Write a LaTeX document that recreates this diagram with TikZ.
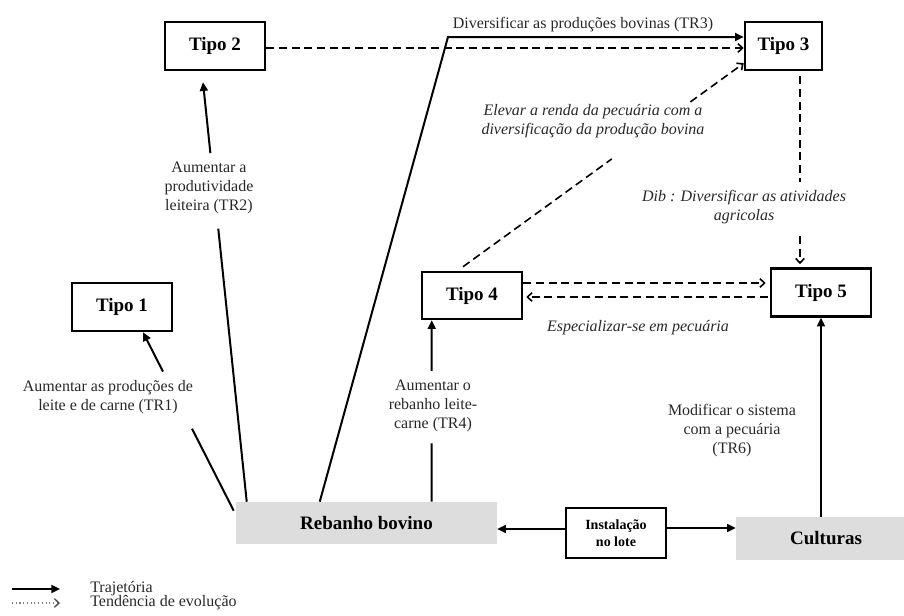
\documentclass[tikz,border=0pt]{standalone}
\usepackage{fontspec}
\setmainfont{Liberation Serif}
\usetikzlibrary{arrows.meta,calc}
\definecolor{boxgray}{RGB}{221,221,221}
\definecolor{labelc}{RGB}{40,40,40}
\begin{document}
\begin{tikzpicture}[x=0.75pt,y=-0.75pt,
  tbox/.style={draw,line width=1.9pt,font=\fontsize{14.25}{17}\selectfont\bfseries,minimum width=75pt,minimum height=36pt,inner sep=0pt},
  gbox/.style={fill=boxgray,font=\fontsize{14.25}{17}\selectfont\bfseries,inner sep=0pt},
  lbl/.style={font=\fontsize{12}{14.25}\selectfont,text=labelc,align=center,inner sep=0pt},
  ilbl/.style={lbl,font=\fontsize{12}{14.25}\selectfont\itshape},
  traj/.style={line width=1.5pt,-{Triangle[length=6.5pt,width=6pt]}},
  trajline/.style={line width=1.5pt},
  tend/.style={line width=1.2pt,dash pattern=on 6pt off 3.5pt,-{Straight Barb[length=3.5pt,width=6.5pt,line width=1.2pt]}},
  tendline/.style={line width=1.2pt,dash pattern=on 6pt off 3.5pt},
]
\useasboundingbox (0,0) rectangle (904,615);

% boxes
\node[tbox] (t1) at (122,307) {Tipo 1};
\node[tbox] (t2) at (215,46) {Tipo 2};
\node[tbox,minimum width=57.75pt] (t3) at (783.5,46) {Tipo 3};
\node[tbox,minimum height=35.25pt] (t4) at (472,295.5) {Tipo 4};
\node[tbox] (t5) at (821,292.5) {Tipo 5};
\node[gbox,minimum width=195.75pt,minimum height=31.5pt] (reb) at (366.5,523) {Rebanho bovino};
\node[tbox,minimum height=37.5pt,font=\fontsize{10.5}{12.75}\selectfont\bfseries,align=center] (inst) at (616,533) {Instalação\\no lote};
\node[gbox,minimum width=126pt,minimum height=32.25pt] (cult) at (820,538.5) {\hspace*{9pt}Culturas};

% TR1
\coordinate (r1) at ($(reb.north west)+(-2,9)$);
\coordinate (t1tip) at ($(t1.south)+(21,0)$);
\draw[trajline] (r1) -- ($(r1)!0.46!(t1tip)$);
\draw[traj] ($(r1)!0.78!(t1tip)$) -- (t1tip);

% TR2
\coordinate (r2) at ($(reb.north west)+(11,0)$);
\coordinate (t2tip) at ($(t2.south)+(-12,11)$);
\draw[trajline] (r2) -- ($(r2)!0.651!(t2tip)$);
\draw[traj] ($(r2)!0.831!(t2tip)$) -- (t2tip);

% TR3
\coordinate (r3) at ($(reb.north west)+(84,0)$);
\coordinate (c3) at (448,37);
\draw[traj] (r3) -- (c3) -- (c3 -| t3.west);

% TR4
\coordinate (t4tip) at ($(t4.south west)+(11,0)$);
\coordinate (r4) at (t4tip |- reb.north);
\draw[trajline] (r4) -- ($(r4)!0.322!(t4tip)$);
\draw[traj] ($(r4)!0.721!(t4tip)$) -- (t4tip);

% TR6
\draw[traj] (cult.north -| t5.south) -- (t5.south);

% Instalacao
\coordinate (iw) at ($(inst.west)+(0,-4)$);
\draw[traj] (iw) -- (iw -| reb.east);
\coordinate (ie) at ($(inst.east)+(0,-5)$);
\draw[traj] (ie) -- (ie -| cult.west);

% tendencies
\coordinate (d2) at ($(t2.east)+(0,2)$);
\draw[tend] (d2) -- (d2 -| t3.west);

\coordinate (d4) at ($(t4.north)+(-9,-4)$);
\coordinate (d3) at ($(t3.south west)+(0,-8)$);
\draw[tendline] (d4) -- ($(d4)!0.53!(d3)$);
\draw[tend] ($(d4)!0.81!(d3)$) -- (d3);

\coordinate (d5a) at ($(t3.south)+(16.5,5)$);
\coordinate (d5b) at ($(d5a |- t5.north)+(0,-3)$);
\draw[tendline] (d5a) -- ($(d5a)!0.56!(d5b)$);
\draw[tend] ($(d5a)!0.85!(d5b)$) -- (d5b);

\coordinate (h1) at ($(t4.east)+(0,-12.5)$);
\draw[tend] (h1) -- ($(h1 -| t5.west)+(-4,0)$);
\coordinate (h2) at ($(t5.west)+(-2,4.5)$);
\draw[tend] (h2) -- ($(h2 -| t4.east)+(3,0)$);

% labels
\node[lbl] (l1) at (108,397) {Aumentar as produções de\\leite e de carne (TR1)};
\node[lbl] (l2) at (209,188) {Aumentar a\\produtividade\\leiteira (TR2)};
\node[lbl] (l3) at (583,25) {Diversificar as produções bovinas (TR3)};
\node[lbl] (l4) at (433,406) {Aumentar o\\rebanho leite-\\carne (TR4)};
\node[lbl] (l6) at (732,431) {Modificar o sistema\\com a pecuária\\(TR6)};
\node[ilbl] (le) at (593,121) {Elevar a renda da pecuária com a\\diversificação da produção bovina};
\node[ilbl] (ld) at (744,207) {Dib : Diversificar as atividades\\agricolas};
\node[ilbl] (ls) at (638,328) {Especializar-se em pecuária};

% legend
\coordinate (la) at (12,589);
\coordinate (lb) at (60,589);
\draw[traj] (la) -- (lb);
\coordinate (lc) at (12,603);
\coordinate (lf) at (60,603);
\draw[gray,line width=0.8pt,dotted,-{Straight Barb[length=3.5pt,width=6.5pt,line width=1pt,black!70]}] (lc) -- (lf);
\node[lbl,anchor=west] (lt1) at (90,589) {Trajetória};
\node[lbl,anchor=west] (lt2) at (90,603) {Tendência de evolução};
\end{tikzpicture}
\end{document}
